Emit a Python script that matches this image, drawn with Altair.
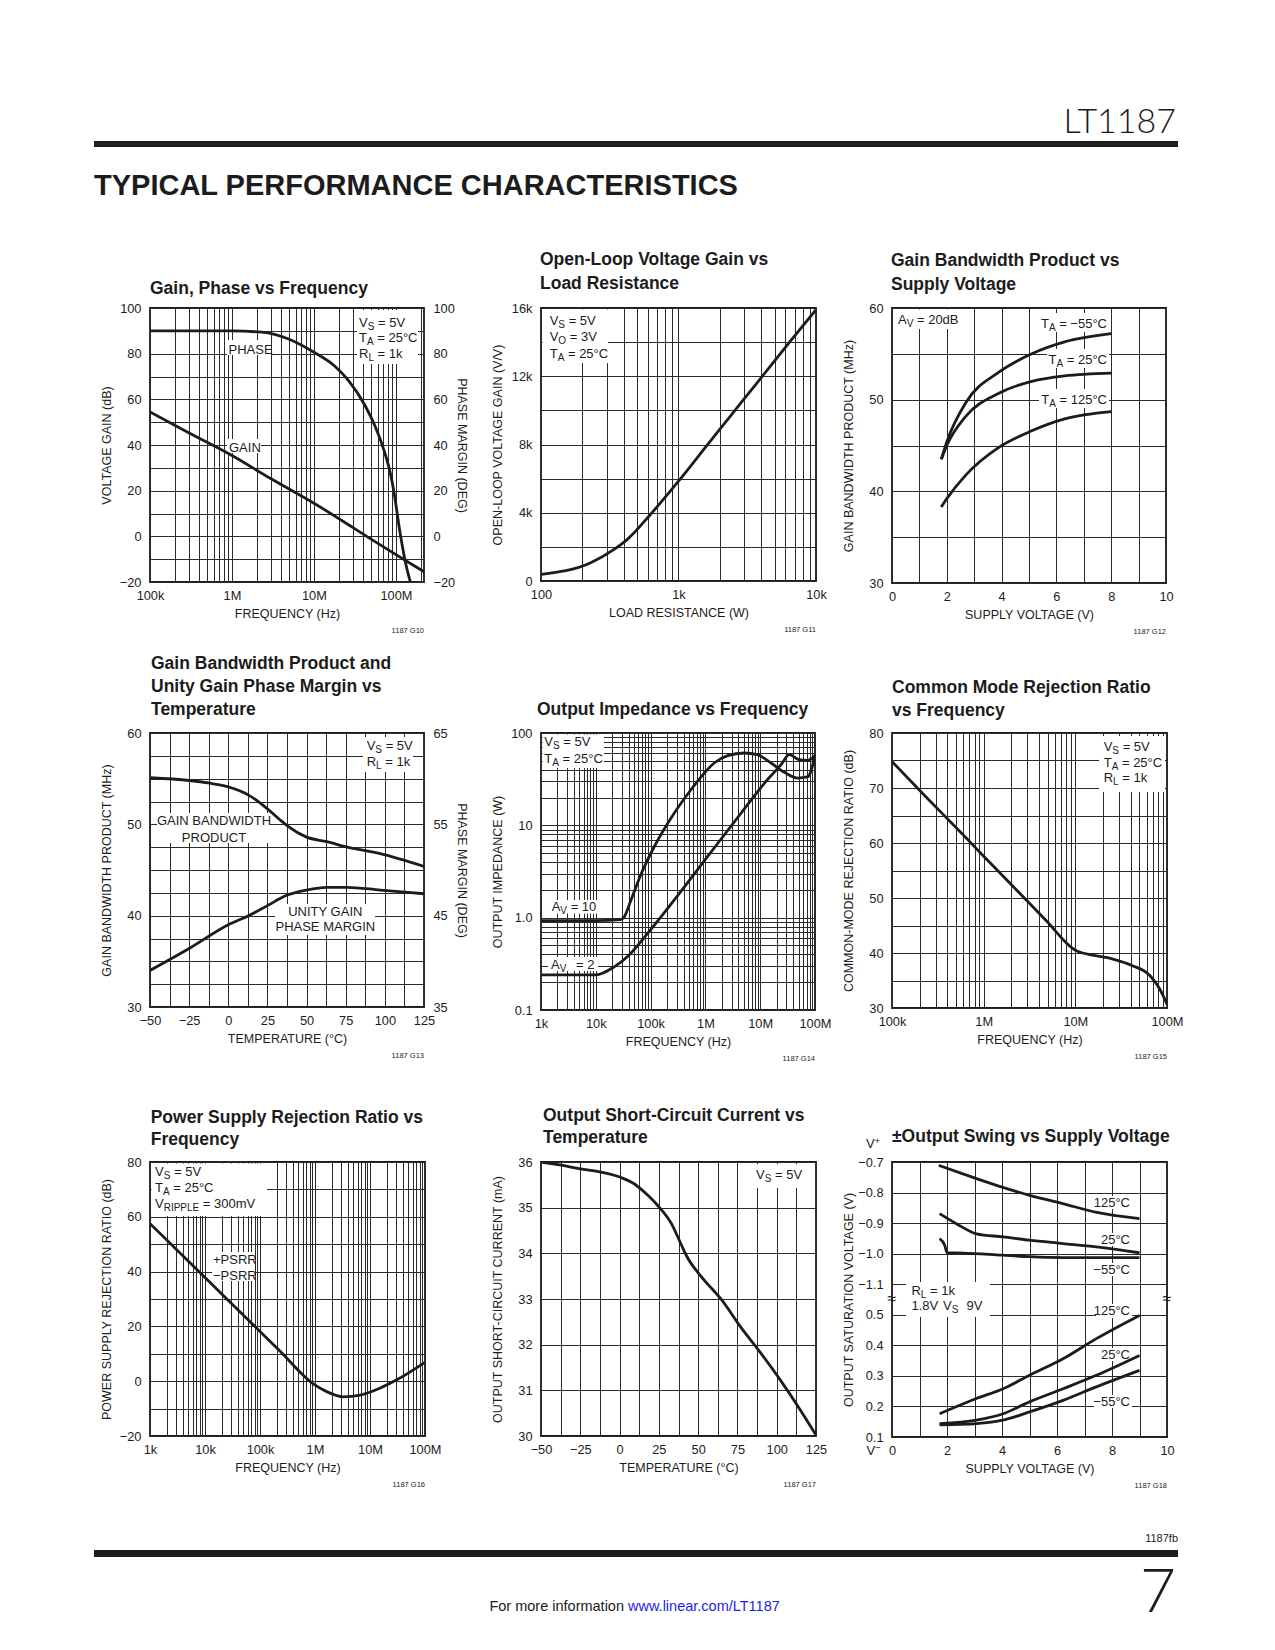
import altair as alt
import pandas as pd

FONT = "Liberation Sans, Arial, sans-serif"
INK = "#1c1c1c"
GRID = "#2a2a2a"
LW = 2.8
MINUS = "\u2212"
FS = 13        # annotation text
TFS = 17.5     # panel titles

# ---------------- data ----------------
# G10 Gain, Phase vs Frequency
g10_gain_f = [1e5, 3e5, 1e6, 3e6, 1e7, 3e7, 4.4e7, 1e8, 2.2e8]
g10_gain_db = [54.5, 45.3, 35.4, 25.2, 14.5, 3.8, 0.0, -8.0, -15.5]
g10_phase_f = [1e5, 1e6, 2.3e6, 4.9e6, 1e7, 1.8e7, 2.6e7, 4.2e7, 5.6e7, 7.1e7,
               8.5e7, 9.3e7, 1.13e8, 1.3e8, 1.5e8]
g10_phase_deg = [90, 90, 89.4, 86.4, 80.6, 74.5, 68.5, 57.3, 48.0, 38.0,
                 28.0, 21.0, 1.0, -11.0, -20.0]

# G11 Open-loop gain vs load resistance
g11_rl = [100, 230, 340, 425, 625, 1000, 1600, 2360, 3680, 6400, 10000]
g11_gain = [390, 1070, 1850, 2440, 3900, 5850, 7920, 9620, 11560, 13980, 15900]

# G12 GBW vs supply voltage
g12_vs = [1.8, 2.0, 2.7, 3.9, 5.1, 6.3, 8.0]
g12_m55 = [43.5, 45.4, 49.7, 53.0, 55.0, 56.3, 57.2]
g12_25 = [43.5, 45.0, 48.2, 50.7, 52.0, 52.6, 52.9]
g12_125 = [38.3, 39.2, 41.8, 44.8, 46.6, 47.9, 48.7]

# G13 GBW and phase margin vs temperature
g13_t = [-50, -25, -12, 0, 13, 25, 33, 38, 50, 63, 76, 97, 125]
g13_gbw = [55.1, 54.8, 54.5, 54.1, 53.2, 51.7, 50.5, 49.8, 48.6, 48.1, 47.5, 46.8, 45.4]
g13_pm_t = [-50, -25, 0, 13, 25, 37, 50, 63, 76, 97, 125]
g13_pm = [39.0, 41.4, 44.0, 45.0, 46.1, 47.2, 47.8, 48.1, 48.1, 47.8, 47.4]

# G14 Output impedance vs frequency
g14_f10 = [1e3, 1e4, 2.8e4, 3.3e4, 4.4e4, 6.6e4, 1.17e5, 2.71e5, 5.45e5, 9.55e5,
           1.45e6, 2.55e6, 5.1e6, 8.9e6, 1.58e7, 2.76e7, 4.8e7, 7.3e7, 8.6e7, 1e8]
g14_z10 = [0.93, 0.93, 0.95, 1.02, 1.56, 2.9, 5.9, 13.6, 24.3, 36.8,
           47.3, 56.8, 60.7, 58.2, 47.3, 37.5, 32.5, 33.4, 40.0, 58.0]
g14_f2 = [1e3, 1e4, 2.2e4, 3.8e4, 8.9e4, 2.71e5, 1.1e6, 4.5e6, 1.2e7, 2.4e7,
          3.4e7, 5.1e7, 7.3e7, 1e8]
g14_z2 = [0.24, 0.24, 0.295, 0.38, 0.68, 1.56, 4.6, 13.6, 28.7, 45.4,
          58.2, 51.4, 50.5, 57.0]

# G15 CMRR vs frequency
g15_f = [1e5, 2.31e5, 5.96e5, 1e6, 2.27e6, 4.8e6, 9.8e6, 1.2e7, 1.43e7, 2.57e7, 4.2e7,
         6.5e7, 8.3e7, 1e8]
g15_cmrr = [74.8, 68.5, 61.5, 57.6, 51.5, 45.9, 40.6, 40.0, 39.7, 38.9, 37.7,
            35.9, 33.5, 30.7]

# G16 PSRR vs frequency
g16_f = [1e3, 2.3e3, 7.1e3, 2.15e4, 6.6e4, 2.3e5, 9.3e5, 1.63e6, 3.3e6, 6.6e6, 1.5e7, 3e7, 1e8]
g16_psrr = [57.5, 50.4, 40.8, 31.3, 21.7, 11.0, -1.0, -3.8, -5.7, -5.1, -2.6, 0.4, 6.9]

# G17 Short-circuit current vs temperature
g17_t = [-50, -37, -25, -12, 1, 9, 18, 25, 33, 39, 43, 52, 65, 77, 90, 103, 115, 125]
g17_isc = [36.0, 35.93, 35.85, 35.78, 35.66, 35.53, 35.27, 35.02, 34.65, 34.21,
           33.92, 33.49, 32.98, 32.39, 31.81, 31.19, 30.57, 30.02]

# G18 Output swing vs supply voltage
g18_up125_vs = [1.7, 3.1, 4.0, 5.0, 6.2, 7.4, 9.0]
g18_up125 = [-0.711, -0.755, -0.782, -0.809, -0.836, -0.864, -0.885]
g18_up25_vs = [1.73, 2.34, 3.07, 4.04, 5.0, 6.22, 7.43, 9.0]
g18_up25 = [-0.869, -0.902, -0.935, -0.945, -0.956, -0.967, -0.978, -0.997]
g18_upm55_vs = [1.73, 1.92, 2.0, 2.6, 4.0, 5.0, 6.2, 9.0]
g18_upm55 = [-0.951, -0.973, -0.997, -0.998, -1.005, -1.010, -1.013, -1.013]
g18_lo_vs = [1.73, 3.07, 4.04, 5.0, 6.22, 7.43, 9.0]
g18_lo125 = [0.176, 0.226, 0.258, 0.302, 0.356, 0.422, 0.498]
g18_lo25 = [0.144, 0.155, 0.176, 0.215, 0.258, 0.302, 0.367]
g18_lom55 = [0.140, 0.144, 0.155, 0.182, 0.220, 0.264, 0.318]

# ---------------- helpers ----------------
AW = {' ': 278, '=': 584, '.': 278, '\u00b0': 400, MINUS: 584, '+': 584, '-': 333,
      'A': 667, 'B': 667, 'C': 722, 'D': 722, 'E': 667, 'F': 611, 'G': 778, 'H': 722,
      'I': 278, 'J': 500, 'K': 667, 'L': 556, 'M': 833, 'N': 722, 'O': 778, 'P': 667,
      'Q': 778, 'R': 722, 'S': 667, 'T': 611, 'U': 722, 'V': 667, 'W': 944, 'X': 667,
      'Y': 667, 'Z': 611, 'a': 556, 'b': 556, 'c': 500, 'd': 556, 'e': 556, 'f': 278,
      'g': 556, 'h': 556, 'i': 222, 'j': 222, 'k': 500, 'l': 222, 'm': 833, 'n': 556,
      'o': 556, 'p': 556, 'q': 556, 'r': 333, 's': 500, 't': 278, 'u': 556, 'v': 500,
      'w': 722, 'x': 500, 'y': 500, 'z': 500}
for d in "0123456789":
    AW[d] = 556

ONE = pd.DataFrame({"k": [0]})
SUB_FS = 10
SUB_DY = 3


def tw(s, fs):
    return sum(AW.get(c, 556) for c in s) * fs / 1000.0


def txt(s, x, y, fs=FS, align="left", weight="normal", color=INK, font=FONT):
    return alt.Chart(ONE).mark_text(
        text=s, align=align, baseline="alphabetic", fontSize=fs, font=font,
        fontWeight=weight, color=color
    ).encode(x=alt.value(x), y=alt.value(y))


def rich(parts, x, y, fs=FS, align="left"):
    sizes = [SUB_FS if sub else fs for _, sub in parts]
    total = sum(tw(s, f) for (s, _), f in zip(parts, sizes))
    cx = x - total if align == "right" else x
    out = []
    for (s, sub), f in zip(parts, sizes):
        stripped = s.lstrip(" ")
        lead = tw(s[:len(s) - len(stripped)], f)
        if stripped.strip():
            out.append(txt(stripped, cx + lead, y + (SUB_DY if sub else 0), f))
        cx += tw(s, f)
    return out


def box(x0, y0, x1, y1, color="white"):
    return alt.Chart(ONE).mark_rect(color=color).encode(
        x=alt.value(x0), x2=alt.value(x1), y=alt.value(y0), y2=alt.value(y1))


def spacer(w, h=1):
    return alt.Chart(ONE).mark_rect(opacity=0).encode(
        x=alt.value(0), x2=alt.value(w), y=alt.value(0), y2=alt.value(h)
    ).properties(width=w, height=h)


def lin_axis(values, every, title, orient=None, grid=True):
    expr = ("abs(datum.value / %g - round(datum.value / %g)) < 0.001 ? "
            "((datum.value < 0 ? '%s' : '') + format(abs(datum.value), 'd')) : ''"
            % (every, every, MINUS))
    kw = dict(values=values, labelExpr=expr, title=title, grid=grid)
    if orient:
        kw["orient"] = orient
    return alt.Axis(**kw)


def log_axis(lo, hi, names, title, extra=()):
    vals = [m * 10.0 ** e for e in range(lo, hi) for m in range(1, 10)] + [10.0 ** hi] + list(extra)
    arr = "[" + ",".join("'%s'" % n for n in names) + "]"
    expr = ("abs(log(datum.value) / LN10 - round(log(datum.value) / LN10)) < 0.01 ? "
            "%s[round(log(datum.value) / LN10) - (%d)] : ''" % (arr, lo))
    return alt.Axis(values=vals, labelExpr=expr, title=title, grid=True)


def lscale(lo, hi):
    return alt.Scale(type="log", domain=[lo, hi], nice=False)


def qscale(lo, hi):
    return alt.Scale(domain=[lo, hi], nice=False, zero=False)


def curve(df, x, y, detail=True, calc=None):
    base = alt.Chart(df)
    if calc:
        base = base.transform_calculate(**calc)
    enc = dict(x=x, y=y)
    if detail:
        enc["detail"] = "s:N"
    return base.mark_line(color=INK, strokeWidth=LW, interpolate="monotone",
                          clip=True).encode(**enc)


def long_df(xname, yname, series):
    rows = []
    for name, xs, ys in series:
        for a, b in zip(xs, ys):
            rows.append({xname: a, yname: b, "s": name})
    return pd.DataFrame(rows)


def panel(pre, curves, post, w, h, ident, titles, title_dx, independent=False):
    layers = list(pre) + list(curves) + list(post)
    for line, ty in titles:
        layers.append(txt(line, title_dx, ty, fs=TFS, weight="bold"))
    layers.append(txt(ident, w, h + 51, fs=7.5, align="right"))
    ch = alt.layer(*layers).properties(
        width=w, height=h, view=alt.ViewBackground(stroke=INK, strokeWidth=1.8))
    if independent:
        ch = ch.resolve_scale(y="independent")
    return ch


VS = [("V", 0), ("S", 1), (" = 5V", 0)]
TA25 = [("T", 0), ("A", 1), (" = 25\u00b0C", 0)]
RL = [("R", 0), ("L", 1), (" = 1k", 0)]

# ---------------- G10 ----------------
x10 = alt.X("f:Q", scale=lscale(1e5, 2.2e8),
            axis=log_axis(5, 8, ["100k", "1M", "10M", "100M"], "FREQUENCY (Hz)", extra=[2e8]))
gain10 = curve(pd.DataFrame({"f": g10_gain_f, "v": g10_gain_db}), x10,
               alt.Y("v:Q", scale=qscale(-20, 100),
                     axis=lin_axis(list(range(-20, 101, 10)), 20, "VOLTAGE GAIN (dB)")),
               detail=False)
phase10 = curve(pd.DataFrame({"f": g10_phase_f, "v": g10_phase_deg}), x10,
                alt.Y("v:Q", scale=qscale(-20, 100),
                      axis=lin_axis(list(range(-20, 101, 20)), 20, "PHASE MARGIN (DEG)",
                                    orient="right", grid=False)),
                detail=False)
c1 = panel(
    [box(207, 2, 268, 56), box(77, 32, 121, 47), box(77, 131, 111, 145)],
    [gain10, phase10],
    rich(VS, 209, 19) + rich(TA25, 209, 34.3) + rich(RL, 209, 49.7)
    + [txt("PHASE", 78.5, 45.7), txt("GAIN", 79, 144)],
    274, 274, "1187 G10", [("Gain, Phase vs Frequency", -14.3)], 0, independent=True)

# ---------------- G11 ----------------
k_expr = ("datum.value % 4000 == 0 ? (datum.value == 0 ? '0' : (datum.value / 1000) + 'k') : ''")
c2_curve = curve(pd.DataFrame({"r": g11_rl, "g": g11_gain}),
                 alt.X("r:Q", scale=lscale(100, 1e4),
                       axis=log_axis(2, 4, ["100", "1k", "10k"], "LOAD RESISTANCE (W)")),
                 alt.Y("g:Q", scale=qscale(0, 16000),
                       axis=alt.Axis(values=list(range(0, 16001, 2000)), labelExpr=k_expr,
                                     title="OPEN-LOOP VOLTAGE GAIN (V/V)", grid=True)),
                 detail=False)
c2 = panel(
    [box(1.5, 1.5, 67, 55)], [c2_curve],
    rich(VS, 8.7, 16.7) + rich([("V", 0), ("O", 1), (" = 3V", 0)], 8.7, 33.3) + rich(TA25, 8.7, 50),
    275, 273, "1187 G11",
    [("Open-Loop Voltage Gain vs", -43.3), ("Load Resistance", -19.3)], -1)

# ---------------- G12 ----------------
df12 = long_df("vs", "gbw", [("m55", g12_vs, g12_m55), ("25", g12_vs, g12_25),
                             ("125", g12_vs, g12_125)])
c3_curve = curve(df12,
                 alt.X("vs:Q", scale=qscale(0, 10),
                       axis=lin_axis(list(range(0, 11)), 2, "SUPPLY VOLTAGE (V)")),
                 alt.Y("gbw:Q", scale=qscale(30, 60),
                       axis=lin_axis(list(range(30, 61, 5)), 10, "GAIN BANDWIDTH PRODUCT (MHz)")))


def TA(rest):
    return [("T", 0), ("A", 1), (rest, 0)]


c3 = panel(
    [box(1.5, 1.5, 67, 21), box(147, 5, 217, 24), box(155, 41, 217, 60), box(147, 81, 217, 100)],
    [c3_curve],
    rich([("A", 0), ("V", 1), (" = 20dB", 0)], 6, 16)
    + rich(TA(" = " + MINUS + "55\u00b0C"), 215, 20.3, align="right")
    + rich(TA(" = 25\u00b0C"), 215, 56, align="right")
    + rich(TA(" = 125\u00b0C"), 215, 96, align="right"),
    274, 275, "1187 G12",
    [("Gain Bandwidth Product vs", -42.3), ("Supply Voltage", -18)], -1)

# ---------------- G13 ----------------
x13 = alt.X("t:Q", scale=qscale(-50, 125),
            axis=lin_axis([-50 + 12.5 * i for i in range(15)], 25, "TEMPERATURE (\u00b0C)"))
gbw13 = curve(pd.DataFrame({"t": g13_t, "v": g13_gbw}), x13,
              alt.Y("v:Q", scale=qscale(30, 60),
                    axis=lin_axis([30 + 2.5 * i for i in range(13)], 10,
                                  "GAIN BANDWIDTH PRODUCT (MHz)")),
              detail=False)
pm13 = curve(pd.DataFrame({"t": g13_pm_t, "v": g13_pm}), x13,
             alt.Y("v:Q", scale=qscale(35, 65),
                   axis=lin_axis([35, 45, 55, 65], 5, "PHASE MARGIN (DEG)",
                                 orient="right", grid=False)),
             detail=False)
c4 = panel(
    [box(213, 4, 263, 39), box(7, 80, 120, 110), box(125, 171, 225, 202)],
    [gbw13, pm13],
    rich(VS, 216.7, 17) + rich(RL, 216.7, 33)
    + [txt("GAIN BANDWIDTH", 64, 92, align="center"), txt("PRODUCT", 64, 108.7, align="center"),
       txt("UNITY GAIN", 175.3, 183, align="center"),
       txt("PHASE MARGIN", 175.3, 198, align="center")],
    274, 274, "1187 G13",
    [("Gain Bandwidth Product and", -63.7), ("Unity Gain Phase Margin vs", -40.7),
     ("Temperature", -18)], 1, independent=True)

# ---------------- G14 ----------------
df14 = long_df("f", "z", [("av10", g14_f10, g14_z10), ("av2", g14_f2, g14_z2)])
c5_curve = curve(df14,
                 alt.X("f:Q", scale=lscale(1e3, 1e8),
                       axis=log_axis(3, 8, ["1k", "10k", "100k", "1M", "10M", "100M"],
                                     "FREQUENCY (Hz)")),
                 alt.Y("z:Q", scale=lscale(0.1, 100),
                       axis=log_axis(-1, 2, ["0.1", "1.0", "10", "100"], "OUTPUT IMPEDANCE (W)")))
c5 = panel(
    [box(1.5, 1.5, 63, 35), box(7, 167, 57, 180.5), box(7, 224, 57, 238)],
    [c5_curve],
    rich(VS, 3.3, 13.4) + rich(TA25, 3.3, 30)
    + rich([("A", 0), ("V", 1), (" = 10", 0)], 10.7, 178)
    + rich([("A", 0), ("V", 1)], 10, 236) + [txt("= 2", 35, 236)],
    274, 277, "1187 G14",
    [("Output Impedance vs Frequency", -18)], -4)

# ---------------- G15 ----------------
c6_curve = curve(pd.DataFrame({"f": g15_f, "c": g15_cmrr}),
                 alt.X("f:Q", scale=lscale(1e5, 1e8),
                       axis=log_axis(5, 8, ["100k", "1M", "10M", "100M"], "FREQUENCY (Hz)")),
                 alt.Y("c:Q", scale=qscale(30, 80),
                       axis=lin_axis(list(range(30, 81, 5)), 10,
                                     "COMMON-MODE REJECTION RATIO (dB)")),
                 detail=False)
c6 = panel(
    [box(207, 3, 273, 59)], [c6_curve],
    rich(VS, 211.7, 17.7) + rich(TA25, 211.7, 33.7) + rich(RL, 211.7, 49.3),
    275, 275, "1187 G15",
    [("Common Mode Rejection Ratio", -40.3), ("vs Frequency", -17)], 0)

# ---------------- G16 ----------------
c7_curve = curve(pd.DataFrame({"f": g16_f, "p": g16_psrr}),
                 alt.X("f:Q", scale=lscale(1e3, 1e8),
                       axis=log_axis(3, 8, ["1k", "10k", "100k", "1M", "10M", "100M"],
                                     "FREQUENCY (Hz)")),
                 alt.Y("p:Q", scale=qscale(-20, 80),
                       axis=lin_axis(list(range(-20, 81, 10)), 20,
                                     "POWER SUPPLY REJECTION RATIO (dB)")),
                 detail=False)
c7 = panel(
    [box(1.5, 1.5, 117, 54), box(62, 90, 105, 119)], [c7_curve],
    rich(VS, 5, 14.3) + rich(TA25, 5, 30)
    + rich([("V", 0), ("RIPPLE", 1), (" = 300mV", 0)], 5, 46)
    + [txt("+PSRR", 63, 101.7), txt(MINUS + "PSRR", 63, 118)],
    275, 274, "1187 G16",
    [("Power Supply Rejection Ratio vs", -39), ("Frequency", -16.7)], 0.7)

# ---------------- G17 ----------------
c8_curve = curve(pd.DataFrame({"t": g17_t, "i": g17_isc}),
                 alt.X("t:Q", scale=qscale(-50, 125),
                       axis=lin_axis([-50 + 12.5 * i for i in range(15)], 25,
                                     "TEMPERATURE (\u00b0C)")),
                 alt.Y("i:Q", scale=qscale(30, 36),
                       axis=lin_axis(list(range(30, 37)), 1,
                                     "OUTPUT SHORT-CIRCUIT CURRENT (mA)")),
                 detail=False)
c8 = panel(
    [box(212, 2, 257, 26)], [c8_curve], rich(VS, 215, 16.6),
    275, 274, "1187 G17",
    [("Output Short-Circuit Current vs", -41.3), ("Temperature", -19.3)], 2)

# ---------------- G18 ----------------
df18 = long_df("vs", "v", [("u125", g18_up125_vs, g18_up125), ("u25", g18_up25_vs, g18_up25),
                           ("um55", g18_upm55_vs, g18_upm55), ("l125", g18_lo_vs, g18_lo125),
                           ("l25", g18_lo_vs, g18_lo25), ("lm55", g18_lo_vs, g18_lom55)])
lab18 = ("['0.1','0.2','0.3','0.4','0.5','{m}1.1','{m}1.0','{m}0.9','{m}0.8','{m}0.7']"
         "[round(datum.value)]").format(m=MINUS)
c9_curve = curve(df18,
                 alt.X("vs:Q", scale=qscale(0, 10),
                       axis=lin_axis(list(range(0, 11)), 2, "SUPPLY VOLTAGE (V)")),
                 alt.Y("p:Q", scale=qscale(0, 9),
                       axis=alt.Axis(values=list(range(10)), labelExpr=lab18,
                                     title="OUTPUT SATURATION VOLTAGE (V)", grid=True)),
                 calc={"p": "datum.v < 0 ? 9 + (datum.v + 0.7) * 10 : (datum.v - 0.1) * 10"})
deg = "\u00b0C"
H9 = 275
c9 = panel(
    [box(204, 34, 240, 47), box(210, 71, 240, 84), box(202, 101, 240, 114),
     box(204, 142, 240, 156), box(210, 186, 240, 199), box(202, 233, 240, 246),
     box(14, 120, 98, 155)],
    [c9_curve],
    [txt("125" + deg, 238, 45, align="right"), txt("25" + deg, 238, 82, align="right"),
     txt(MINUS + "55" + deg, 238, 112.4, align="right"),
     txt("125" + deg, 238, 153.4, align="right"), txt("25" + deg, 238, 197.4, align="right"),
     txt(MINUS + "55" + deg, 238, 244.4, align="right")]
    + rich(RL, 19.4, 133.4) + [txt("1.8V", 19.4, 148.4)]
    + rich([("V", 0), ("S", 1)], 51, 148.4) + [txt("9V", 74.4, 148.4)]
    + [txt("\u2248", 0, 142, fs=16, align="center"), txt("\u2248", 275, 142, fs=16, align="center"),
       txt("V", -26, -13.7), txt("+", -17.5, -18, fs=9.5),
       txt("V", -25.6, H9 + 18.4), txt(MINUS, -17, H9 + 14, fs=9.5)],
    275, H9, "1187 G18",
    [("\u00b1Output Swing vs Supply Voltage", -20)], 0)

# ---------------- page furniture ----------------
LIGHT = "Lato, Liberation Sans, sans-serif"
header = alt.layer(
    box(86, 133, 1170, 139, INK),
    txt("LT1187", 1168, 125, fs=34, align="right", weight=300, font=LIGHT),
    txt("TYPICAL PERFORMANCE CHARACTERISTICS", 86, 187, fs=29, weight="bold"),
).properties(width=1, height=300)

footer = alt.layer(
    txt("1187fb", 1170, 104.7, fs=11, align="right"),
    box(86, 113, 1170, 120, INK),
    txt("7", 1168, 175, fs=62, align="right", weight=300, font=LIGHT),
    txt("For more information", 616, 174, fs=14.5, align="right"),
    txt("www.linear.com/LT1187", 620, 174, fs=14.5, color="#1e1ee8"),
).properties(width=1, height=182)

# grid columns: [left margin | chart | gap | chart | gap | chart]
S1 = [spacer(1)] * 5
items = ([header] + S1
         + [spacer(142), c1, spacer(116), c2, spacer(76), c3]
         + [spacer(1, 150)] + S1
         + [spacer(142), c4, spacer(116), c5, spacer(76), c6]
         + [spacer(1, 152)] + S1
         + [spacer(142), c7, spacer(116), c8, spacer(76), c9]
         + [footer] + S1)

chart = alt.concat(
    *items, columns=6, spacing=0, bounds="flush", align="each"
).properties(padding=0, background="white").configure_view(
    strokeWidth=0
).configure_axis(
    labelFont=FONT, labelFontSize=12.8, labelColor=INK, titleFont=FONT, titleFontSize=12.5,
    titleFontWeight="normal", titleColor=INK, ticks=False, tickSize=0, domain=False,
    gridColor=GRID, gridWidth=1, gridOpacity=1, labelOverlap=False, labelFlush=False,
    labelBound=False
).configure_axisBottom(
    labelPadding=7, titlePadding=3, minExtent=22, maxExtent=22
).configure_axisLeft(
    labelPadding=9, titlePadding=7, minExtent=30, maxExtent=30
).configure_axisRight(
    labelPadding=9, titlePadding=0, minExtent=30, maxExtent=30
)

chart.save("out.html", embed_options={"renderer": "svg", "actions": False})
